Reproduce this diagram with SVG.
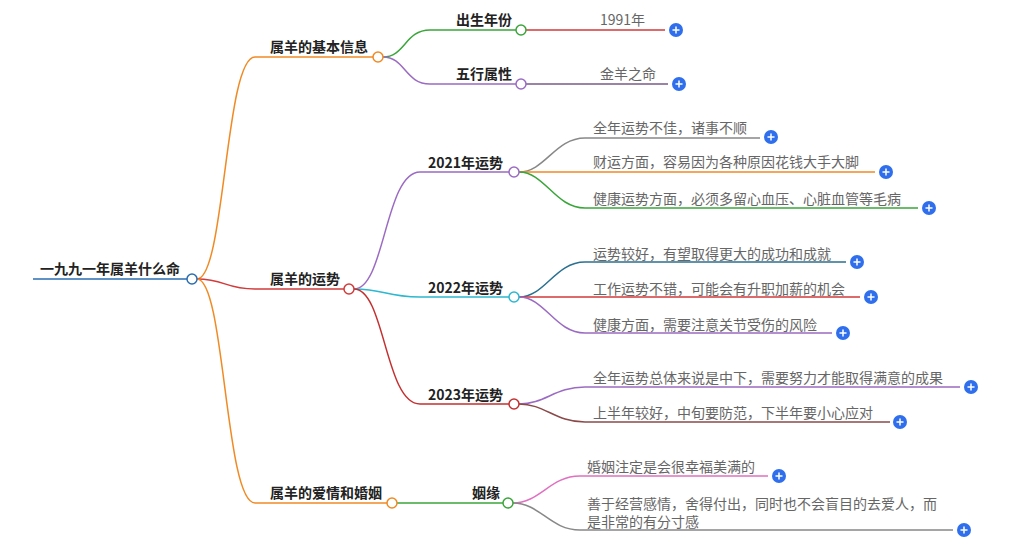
<svg xmlns="http://www.w3.org/2000/svg" width="1031" height="553" viewBox="0 0 1031 553">
<style>
.n{font-family:"Noto Sans CJK SC","Liberation Sans",sans-serif;font-size:14px;font-weight:bold;fill:#222}
.l{font-family:"Noto Sans CJK SC","Liberation Sans",sans-serif;font-size:14px;fill:#666}
path,line{fill:none;stroke-width:1.5}
circle.c{fill:#fff;stroke-width:1.5}
</style>
<defs>
<g id="plus"><circle r="7" fill="#2f6fed"/><path d="M-3.5 0H3.5M0 -3.5V3.5" stroke="#fff" stroke-width="1.6"/></g>
</defs>
<rect width="1031" height="553" fill="#fff"/>
<g id="connectors">
<path d="M197 279 C225 279 225 57 255 57" stroke="#f08a24"/>
<path d="M197 279 C225 279 225 289 255 289" stroke="#d33a3a"/>
<path d="M197 279 C225 279 225 503 255 503" stroke="#f08a24"/>
<path d="M383 57 C405 57 405 30 430 30 H516" stroke="#3aa53a"/>
<path d="M383 57 C405 57 405 84 430 84 H516" stroke="#9b6bc3"/>
<path d="M354 289 C385 289 385 172 420 172 H509" stroke="#9b6bc3"/>
<path d="M354 289 C385 289 385 297 420 297 H509" stroke="#2bb8d0"/>
<path d="M354 289 C385 289 385 404 420 404 H509" stroke="#c43030"/>
<path d="M397 503 H503" stroke="#3aa53a"/>
<line x1="526" y1="30" x2="665" y2="30" stroke="#d33a3a"/>
<path d="M526 84 H668" stroke="#7a5a8a"/>
<path d="M519 172 C545 172 555 138 585 138 H760" stroke="#888"/>
<path d="M519 172 H875" stroke="#f08a24"/>
<path d="M519 172 C545 172 555 208 585 208 H918" stroke="#3aa53a"/>
<path d="M519 297 C545 297 555 262 585 262 H846" stroke="#2a7090"/>
<path d="M519 297 H860" stroke="#d33a3a"/>
<path d="M519 297 C545 297 555 333 585 333 H832" stroke="#9b6bc3"/>
<path d="M519 404 C545 404 555 387 585 387 H960" stroke="#9b6bc3"/>
<path d="M519 404 C545 404 555 422 585 422 H890" stroke="#8a4a4a"/>
<path d="M513 503 C540 503 550 476 580 476 H768" stroke="#e070c0"/>
<path d="M513 503 C540 503 550 530 580 530 H953" stroke="#888"/>
</g>
<g id="root"><line x1="33" y1="279" x2="187" y2="279" stroke="#2a6db0" stroke-width="4"/><text class="n" x="40" y="274">一九九一年属羊什么命</text><circle class="c" cx="192" cy="279" r="5" stroke="#2a6db0"/></g>
<g id="b1"><line x1="255" y1="57" x2="373" y2="57" stroke="#f08a24"/><text class="n" x="270" y="52">属羊的基本信息</text><circle class="c" cx="378" cy="57" r="5" stroke="#f08a24"/></g>
<g id="b2"><line x1="255" y1="289" x2="344" y2="289" stroke="#d33a3a"/><text class="n" x="270" y="284">属羊的运势</text><circle class="c" cx="349" cy="289" r="5" stroke="#d33a3a"/></g>
<g id="b3"><line x1="255" y1="503" x2="387" y2="503" stroke="#f08a24"/><text class="n" x="270" y="498">属羊的爱情和婚姻</text><circle class="c" cx="392" cy="503" r="5" stroke="#f08a24"/></g>
<g id="c1"><text class="n" x="456" y="25">出生年份</text><circle class="c" cx="521" cy="30" r="5" stroke="#3aa53a"/></g>
<g id="c2"><text class="n" x="456" y="79">五行属性</text><circle class="c" cx="521" cy="84" r="5" stroke="#9b6bc3"/></g>
<g id="c3"><text class="n" x="428" y="168">2021年运势</text><circle class="c" cx="514" cy="172" r="5" stroke="#9b6bc3"/></g>
<g id="c4"><text class="n" x="428" y="293">2022年运势</text><circle class="c" cx="514" cy="297" r="5" stroke="#2bb8d0"/></g>
<g id="c5"><text class="n" x="428" y="400">2023年运势</text><circle class="c" cx="514" cy="404" r="5" stroke="#c43030"/></g>
<g id="c6"><text class="n" x="472" y="498">姻缘</text><circle class="c" cx="508" cy="503" r="5" stroke="#3aa53a"/></g>
<g id="leaves">
<text class="l" x="600" y="25">1991年</text><use href="#plus" x="676" y="30"/>
<text class="l" x="600" y="79">金羊之命</text><use href="#plus" x="679" y="84"/>
<text class="l" x="593" y="133">全年运势不佳，诸事不顺</text><use href="#plus" x="771" y="137"/>
<text class="l" x="593" y="167">财运方面，容易因为各种原因花钱大手大脚</text><use href="#plus" x="886" y="172"/>
<text class="l" x="593" y="204">健康运势方面，必须多留心血压、心脏血管等毛病</text><use href="#plus" x="929" y="208"/>
<text class="l" x="593" y="259">运势较好，有望取得更大的成功和成就</text><use href="#plus" x="857" y="262"/>
<text class="l" x="593" y="294">工作运势不错，可能会有升职加薪的机会</text><use href="#plus" x="871" y="297"/>
<text class="l" x="593" y="330">健康方面，需要注意关节受伤的风险</text><use href="#plus" x="843" y="333"/>
<text class="l" x="593" y="383">全年运势总体来说是中下，需要努力才能取得满意的成果</text><use href="#plus" x="971" y="387"/>
<text class="l" x="593" y="418">上半年较好，中旬要防范，下半年要小心应对</text><use href="#plus" x="900" y="422"/>
<text class="l" x="587" y="472">婚姻注定是会很幸福美满的</text><use href="#plus" x="779" y="476"/>
<text class="l" x="587" y="509">善于经营感情，舍得付出，同时也不会盲目的去爱人，而</text>
<text class="l" x="587" y="527">是非常的有分寸感</text><use href="#plus" x="964" y="530"/>
</g>
</svg>
